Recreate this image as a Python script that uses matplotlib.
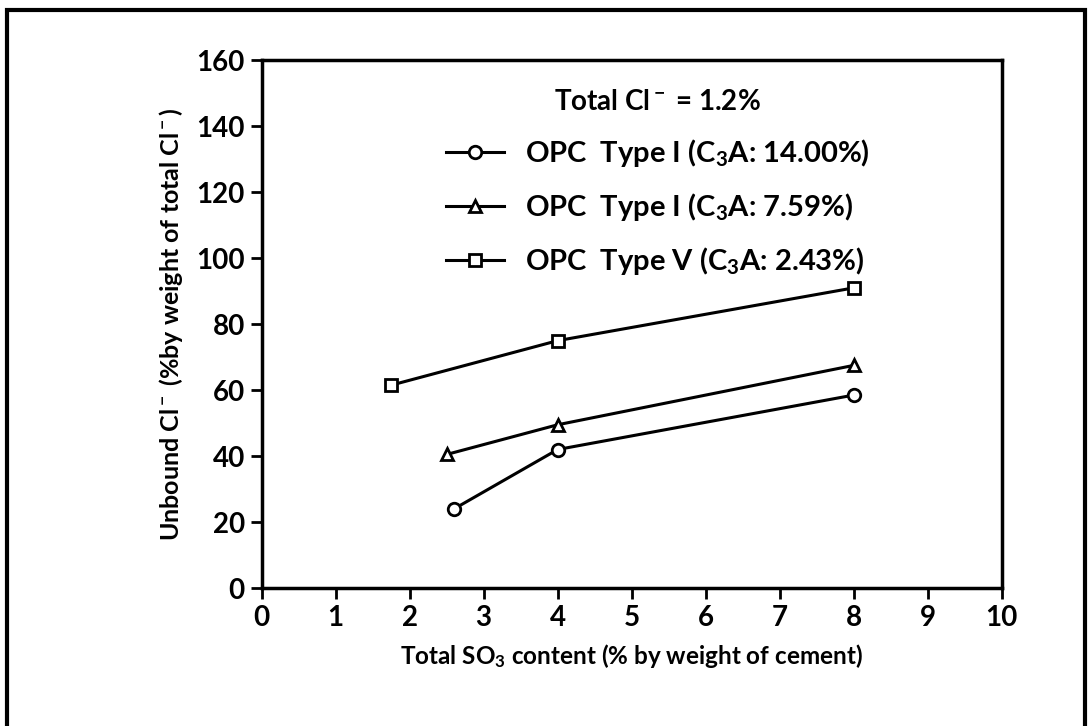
import matplotlib.pyplot as plt
from matplotlib.patches import Rectangle

plt.rcParams['font.family'] = ['Lato', 'DejaVu Sans']
plt.rcParams['font.weight'] = 'bold'
plt.rcParams['mathtext.fontset'] = 'custom'
plt.rcParams['mathtext.rm'] = 'Lato:bold'
plt.rcParams['mathtext.it'] = 'Lato:bold'
plt.rcParams['mathtext.bf'] = 'Lato:bold'

# data
so3_c14 = [2.6, 4, 8]
cl_c14 = [24, 42, 58.5]
so3_c759 = [2.5, 4, 8]
cl_c759 = [40.5, 49.5, 67.5]
so3_c243 = [1.75, 4, 8]
cl_c243 = [61.5, 75, 91]

labels = ['OPC  Type I (C$_3$A: 14.00%)',
          'OPC  Type I (C$_3$A: 7.59%)',
          'OPC  Type V (C$_3$A: 2.43%)']
markers = ['o', '^', 's']

fig = plt.figure(figsize=(10.9, 7.26), dpi=100)
ax = fig.add_axes([0.240, 0.190, 0.679, 0.727])

series = [(so3_c14, cl_c14), (so3_c759, cl_c759), (so3_c243, cl_c243)]
for (x, y), m, lab in zip(series, markers, labels):
    ax.plot(x, y, color='black', lw=2.2, marker=m, ms=9, mfc='white',
            mec='black', mew=2, label=lab)

ax.set_xlim(0, 10)
ax.set_ylim(0, 160)
ax.set_xticks(range(0, 11))
ax.set_yticks(range(0, 161, 20))
ax.tick_params(direction='out', length=8, width=2, labelsize=20, pad=4)
for s in ax.spines.values():
    s.set_linewidth(2.5)

ax.set_xlabel('Total SO$_3$ content (% by weight of cement)', fontsize=17.5,
              fontweight='bold', labelpad=8)
ax.set_ylabel('Unbound Cl$^-$ (%by weight of total Cl$^-$)', fontsize=18,
              fontweight='bold', labelpad=8)

leg = ax.legend(loc='upper center', bbox_to_anchor=(0.535, 0.995), frameon=False,
                prop={'size': 21, 'weight': 'bold'}, handlelength=2.0,
                handletextpad=0.7, labelspacing=0.75, title='Total Cl$^-$ = 1.2%')
leg.get_title().set_fontsize(20)
leg.get_title().set_fontweight('bold')
leg._legend_box.align = 'center'

# outer frame around the whole picture
fig.patches.append(Rectangle((0.006, -0.02), 0.989, 1.006, transform=fig.transFigure,
                             fill=False, lw=3, ec='black'))

fig.savefig('out.png', dpi=100)
